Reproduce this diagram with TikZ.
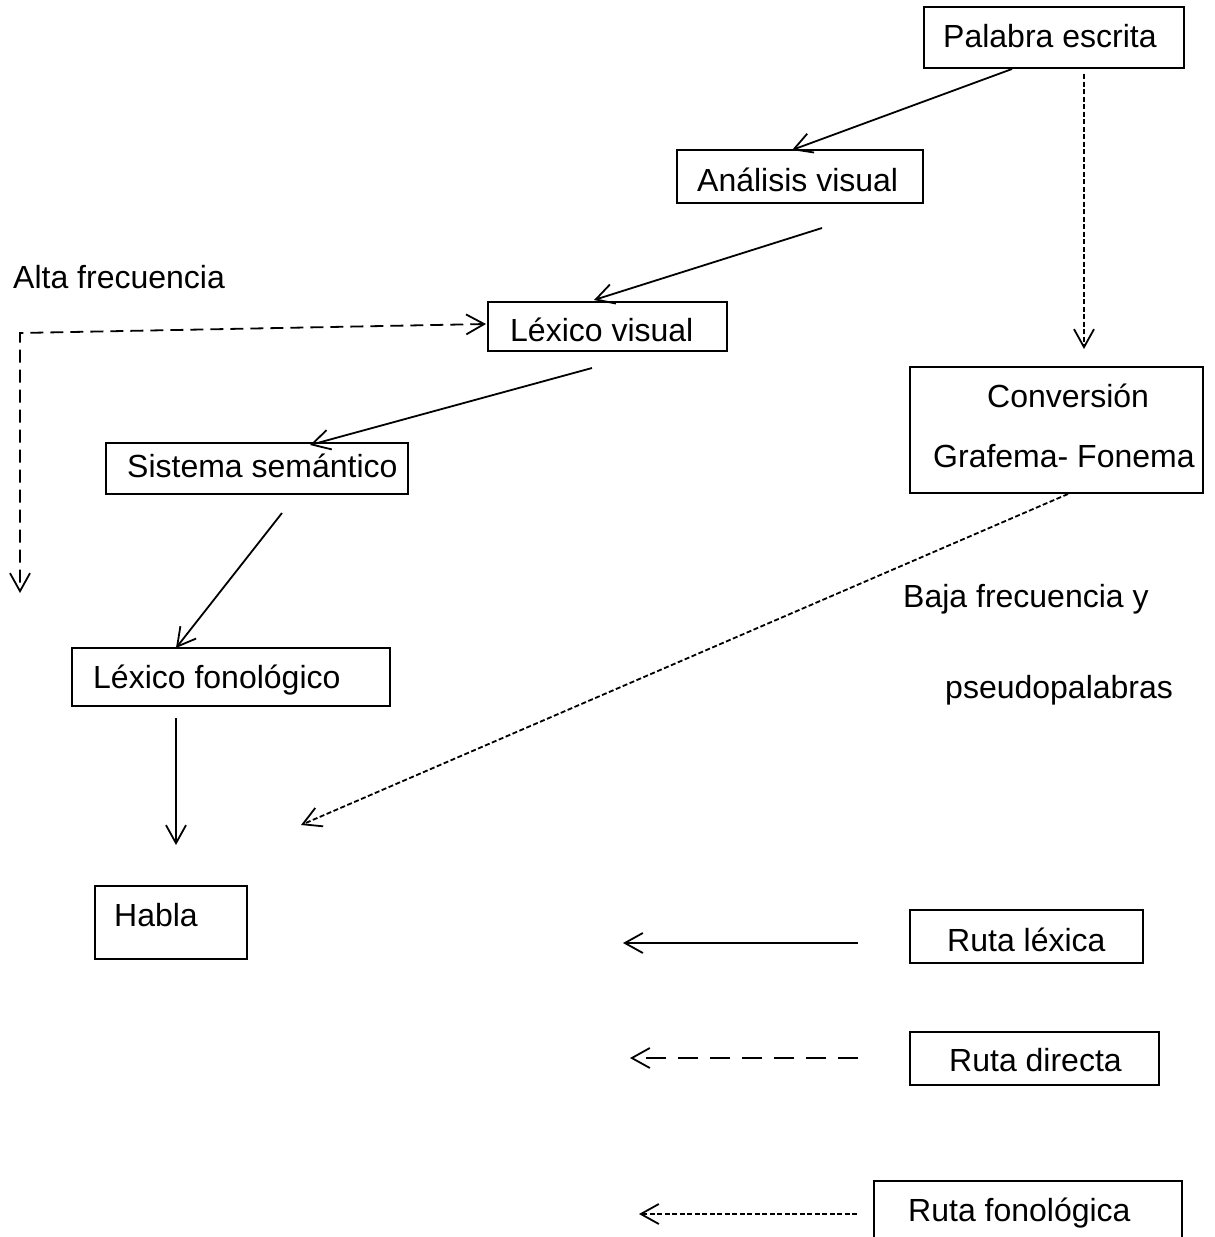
\documentclass[tikz,border=0pt]{standalone}
\usepackage{fontspec}
\setmainfont{Liberation Sans}
\usetikzlibrary{arrows.meta,fit}
\begin{document}
\begin{tikzpicture}[x=1pt,y=-1pt,
  box/.style={draw=black,line width=1.4pt,inner sep=0pt,fit={#1}},
  txt/.style={inner sep=0pt,anchor=base west,font=\fontsize{32}{38}\selectfont},
  tip/.tip={Straight Barb[length=18pt,width=20pt,line width=1.8pt]},
  conn/.style={line width=1.8pt,-tip},
  finedash/.style={dash pattern=on 5pt off 2.5pt},
  longdash/.style={dash pattern=on 13pt off 7pt},
  widedash/.style={dash pattern=on 20pt off 12pt}]
\useasboundingbox (0,0) rectangle (1215,1237);
\clip (0,0) rectangle (1215,1237);
% boxes
\node[box={(924,7) (1184,68)}] (pe) {};
\node[box={(677,150) (923,203)}] (av) {};
\node[box={(488,302) (727,351)}] (lv) {};
\node[box={(910,367) (1203,493)}] (cgf) {};
\node[box={(106,443) (408,494)}] (ss) {};
\node[box={(72,648) (390,706)}] (lf) {};
\node[box={(95,886) (247,959)}] (ha) {};
\node[box={(910,910) (1143,963)}] (rl) {};
\node[box={(910,1032) (1159,1085)}] (rd) {};
\node[box={(874,1181) (1182,1262)}] (rf) {};
% texts
\node[txt] (tpe) at (943,47) {Palabra escrita};
\node[txt] (tav) at (697,191) {Análisis visual};
\node[txt] (talta) at (13,288) {Alta frecuencia};
\node[txt] (tlv) at (510,341) {Léxico visual};
\node[txt] (tcg1) at (987,407) {Conversión};
\node[txt] (tcg2) at (933,467) {Grafema- Fonema};
\node[txt] (tss) at (127,477) {Sistema semántico};
\node[txt] (tbaja) at (903,607) {Baja frecuencia y};
\node[txt] (tlf) at (93,688) {Léxico fonológico};
\node[txt] (tpseudo) at (945,698) {pseudopalabras};
\node[txt] (tha) at (114,926) {Habla};
\node[txt] (trl) at (947,951) {Ruta léxica};
\node[txt] (trd) at (949,1071) {Ruta directa};
\node[txt] (trf) at (908,1221) {Ruta fonológica};
% connector end points
\coordinate (pe-a) at (1012,69);
\coordinate (av-a) at (792,150);
\coordinate (pe-b) at (1084,74);
\coordinate (cgf-b) at (1084,349);
\coordinate (av-c) at (822,228);
\coordinate (lv-c) at (594,300);
\coordinate (alta-corner) at (20,333);
\coordinate (lv-alta) at (486,324);
\coordinate (alta-end) at (20,593);
\coordinate (lv-d) at (592,368);
\coordinate (ss-d) at (310,445);
\coordinate (ss-e) at (282,513);
\coordinate (lf-e) at (176,648);
\coordinate (lf-f) at (176,718);
\coordinate (ha-f) at (176,845);
\coordinate (cgf-g) at (1068,494);
\coordinate (ha-g) at (301,825);
\coordinate (rl-a) at (858,943);
\coordinate (rl-b) at (623,943);
\coordinate (rd-a) at (858,1058);
\coordinate (rd-b) at (630,1058);
\coordinate (rf-a) at (857,1214);
\coordinate (rf-b) at (639,1214);
% connectors
\draw[conn] (pe-a) -- (av-a);
\draw[conn,finedash] (pe-b) -- (cgf-b);
\draw[conn] (av-c) -- (lv-c);
\draw[conn,longdash,tip-tip] (lv-alta) -- (alta-corner) -- (alta-end);
\draw[conn] (lv-d) -- (ss-d);
\draw[conn] (ss-e) -- (lf-e);
\draw[conn] (lf-f) -- (ha-f);
\draw[conn,finedash] (cgf-g) -- (ha-g);
\draw[conn] (rl-a) -- (rl-b);
\draw[conn,widedash] (rd-a) -- (rd-b);
\draw[conn,finedash] (rf-a) -- (rf-b);
\end{tikzpicture}
\end{document}
